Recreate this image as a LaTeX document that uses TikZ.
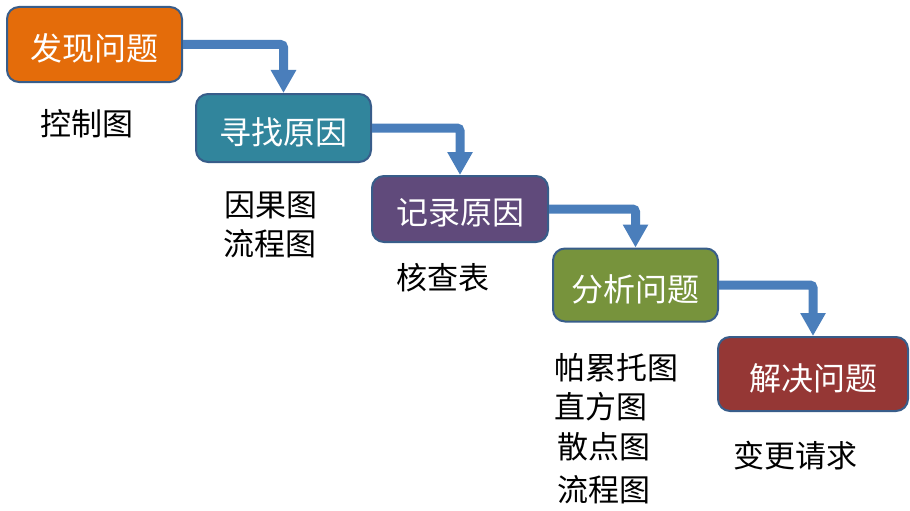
\documentclass[tikz,border=0pt]{standalone}
\usepackage{fontspec}
\newfontfamily\cjk{Noto Sans CJK SC}
\usetikzlibrary{arrows.meta}
\definecolor{cOrange}{HTML}{E46C0A}
\definecolor{cTeal}{HTML}{31859C}
\definecolor{cPurple}{HTML}{604A7B}
\definecolor{cOlive}{HTML}{77933C}
\definecolor{cRed}{HTML}{953735}
\definecolor{cBorder}{HTML}{385D8A}
\definecolor{cArrow}{HTML}{4A7EBB}
\newcommand{\lowertext}[1]{\raisebox{-4pt}[\height][\depth]{#1}}
\tikzset{
  stepbox/.style={draw=cBorder, line width=2pt, rounded corners=12pt, inner sep=0pt,
    text=white, font=\cjk\fontsize{32}{32}\selectfont},
  toolnote/.style={inner sep=0pt, text=black, font=\cjk\fontsize{31}{36}\selectfont},
  flow/.style={draw=cArrow, line width=9pt, rounded corners=3pt,
    -{Triangle[width=24pt,length=23pt]}}
}
\begin{document}
\begin{tikzpicture}[x=1pt,y=-1pt]
\useasboundingbox (0,0) rectangle (910,511);
\node[stepbox, fill=cOrange, minimum width=175pt, minimum height=75pt] (b1) at (94.5,44.5) {\lowertext{发现问题}};
\node[stepbox, fill=cTeal, minimum width=175pt, minimum height=68pt] (b2) at (283.5,128) {\lowertext{寻找原因}};
\node[stepbox, fill=cPurple, minimum width=176pt, minimum height=66pt] (b3) at (460,209) {\lowertext{记录原因}};
\node[stepbox, fill=cOlive, minimum width=165pt, minimum height=73pt] (b4) at (635.5,285) {\lowertext{分析问题}};
\node[stepbox, fill=cRed, minimum width=190pt, minimum height=74pt] (b5) at (813,374) {\lowertext{解决问题}};

\draw[flow] (b1.east) -| (b2.north);
\draw[flow] (b2.east) -| (b3.north);
\draw[flow] (b3.east) -| (b4.north);
\draw[flow] (b4.east) -| (b5.north);

\node[toolnote] (t1) at (87,123.5) {控制图};
\node[toolnote] (t2) at (270.5,205) {因果图};
\node[toolnote] (t3) at (270,243.5) {流程图};
\node[toolnote] (t4) at (442.5,277.5) {核查表};
\node[toolnote, anchor=west] (t5) at (554,367.5) {帕累托图};
\node[toolnote, anchor=west] (t6) at (554,407) {直方图};
\node[toolnote, anchor=west] (t7) at (557,446.5) {散点图};
\node[toolnote, anchor=west] (t8) at (557,490) {流程图};
\node[toolnote] (t9) at (795.5,456) {变更请求};
\end{tikzpicture}
\end{document}
